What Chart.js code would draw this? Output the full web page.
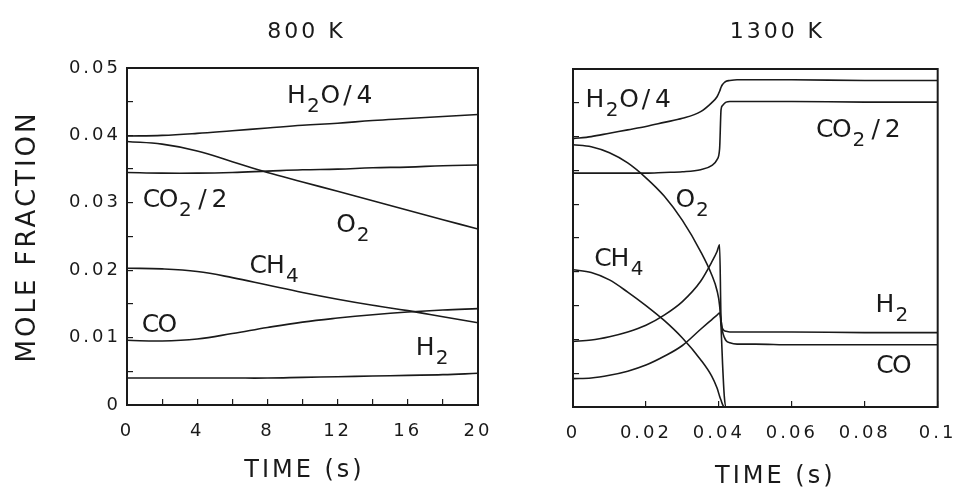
<!DOCTYPE html>
<html>
<head>
<meta charset="utf-8">
<title>Mole fraction vs time at 800 K and 1300 K</title>
<script src="https://cdn.jsdelivr.net/npm/chart.js@4.4.1/dist/chart.umd.min.js"></script>
<style>
  html, body { margin: 0; padding: 0; background: #fff; }
  #wrap { position: relative; width: 974px; height: 496px; }
  canvas { position: absolute; top: 0; }
  #cool { left: 0; }
  #hot { left: 520px; }
</style>
</head>
<body>
<div id="wrap">
  <canvas id="cool" width="520" height="496"></canvas>
  <canvas id="hot" width="454" height="496"></canvas>
</div>
<script>
// ==== 800 K panel (time in s) ====
const coolTime = [0, 2, 4, 6, 8, 10, 12, 14, 16, 18, 20];
const coolH2O4 = [0.0399, 0.0400, 0.0403, 0.0407, 0.0411, 0.0415, 0.0418, 0.0422, 0.0425, 0.0428, 0.0431];
const coolCO2h = [0.0345, 0.0344, 0.0344, 0.0345, 0.0347, 0.0349, 0.0350, 0.0352, 0.0353, 0.0355, 0.0356];
const coolO2   = [0.0391, 0.0387, 0.0377, 0.0361, 0.0345, 0.0331, 0.0317, 0.0303, 0.0289, 0.0275, 0.0261];
const coolCH4  = [0.0203, 0.0202, 0.0198, 0.0189, 0.0178, 0.0167, 0.0157, 0.0148, 0.0140, 0.0131, 0.0122];
const coolCO   = [0.0096, 0.0095, 0.0098, 0.0106, 0.0115, 0.0123, 0.0129, 0.0134, 0.0138, 0.0141, 0.0143];
const coolH2   = [0.0040, 0.0040, 0.0040, 0.0040, 0.0040, 0.0041, 0.0042, 0.0043, 0.0044, 0.0045, 0.0047];

// ==== 1300 K panel (time in s) ====
const hotTime = [0, 0.005, 0.01, 0.015, 0.02, 0.025, 0.03, 0.035, 0.038, 0.0395, 0.0402,
                 0.0406, 0.041, 0.0415, 0.042, 0.043, 0.045, 0.05, 0.06, 0.08, 0.1];
const hotH2O4 = [0.0397, 0.0400, 0.0405, 0.0410, 0.0415, 0.0421, 0.0427, 0.0437, 0.0450, 0.0459, 0.0467,
                 0.0473, 0.0477, 0.0480, 0.0482, 0.0483, 0.0484, 0.0484, 0.0484, 0.0483, 0.0483];
const hotCO2h = [0.0346, 0.0346, 0.0346, 0.0346, 0.0346, 0.0347, 0.0348, 0.0351, 0.0357, 0.0366, 0.0382,
                 0.0440, 0.0446, 0.0449, 0.0451, 0.0452, 0.0452, 0.0452, 0.0452, 0.0451, 0.0451];
const hotO2   = [0.0388, 0.0385, 0.0376, 0.0361, 0.0339, 0.0312, 0.0276, 0.0230, 0.0196, 0.0172, 0.0150,
                 0.0118, 0.0065, 0.0015, 0, 0, 0, 0, 0, 0, 0];
const hotCH4  = [0.0203, 0.0199, 0.0188, 0.0170, 0.0150, 0.0128, 0.0102, 0.0070, 0.0046, 0.0028, 0.0016,
                 0.0010, 0.0004, 0, 0, 0, 0, 0, 0, 0, 0];
const hotH2   = [0.0097, 0.0099, 0.0104, 0.0111, 0.0121, 0.0136, 0.0156, 0.0186, 0.0214, 0.0230, 0.0240,
                 0.0130, 0.0116, 0.0113, 0.0112, 0.0111, 0.0111, 0.0111, 0.0111, 0.0110, 0.0110];
const hotCO   = [0.0042, 0.0043, 0.0047, 0.0053, 0.0062, 0.0075, 0.0091, 0.0115, 0.0129, 0.0136, 0.0139,
                 0.0128, 0.0112, 0.0103, 0.0098, 0.0095, 0.0093, 0.0093, 0.0092, 0.0092, 0.0092];

// ==== Tick labels ====
const coolXTicks = ['0', '4', '8', '12', '16', '20'];
const hotXTicks = ['0', '0.02', '0.04', '0.06', '0.08', '0.1'];
const yTicks = ['0', '0.01', '0.02', '0.03', '0.04', '0.05'];

const INK = '#1a1a1a';
const FONT = 'DejaVu Sans';

function pair(time, values) {
  return time.map((t, i) => ({ x: t, y: values[i] }));
}

function labelFor(v, list) {
  const hit = list.find(s => Math.abs(parseFloat(s) - v) < 1e-9);
  return hit === undefined ? '' : hit;
}

// plotter-style lettering: wide spacing on everything the library draws
const spacing = {
  id: 'spacing',
  beforeDraw(chart) { chart.ctx.letterSpacing = '3px'; }
};

// closed frame round the plot area
const frame = {
  id: 'frame',
  afterDatasetsDraw(chart) {
    const { ctx, chartArea: a } = chart;
    ctx.save();
    ctx.strokeStyle = INK;
    ctx.lineWidth = 2;
    ctx.strokeRect(a.left, a.top, a.right - a.left, a.bottom - a.top);
    ctx.restore();
  }
};

// species names with subscripts, e.g. 'H_2O/4'
const speciesLabels = {
  id: 'speciesLabels',
  afterDatasetsDraw(chart, args, opts) {
    const { ctx, scales: { x, y } } = chart;
    ctx.save();
    ctx.fillStyle = INK;
    ctx.textAlign = 'center';
    ctx.textBaseline = 'alphabetic';
    ctx.letterSpacing = '0px';
    opts.items.forEach(item => {
      let px = x.getPixelForValue(item.x);
      const py = y.getPixelForValue(item.y);
      item.text.split(/(_\d)/).filter(Boolean).forEach(part => {
        const sub = part[0] === '_';
        const chars = sub ? part.slice(1) : part;
        ctx.font = (sub ? opts.subSize : opts.size) + 'px "' + FONT + '"';
        for (const c of chars) {
          ctx.fillText(c, px + opts.advance / 2, py + (sub ? opts.subDrop : 0));
          px += opts.advance;
        }
      });
    });
    ctx.restore();
  }
};

// panel heading and time caption, centred on the plot area plus a small shift
const captions = {
  id: 'captions',
  afterDraw(chart, args, opts) {
    const { ctx, chartArea: a } = chart;
    const mid = (a.left + a.right) / 2;
    ctx.save();
    ctx.fillStyle = INK;
    ctx.letterSpacing = '3px';
    ctx.textAlign = 'center';
    ctx.textBaseline = 'alphabetic';
    opts.items.forEach(c => {
      ctx.font = c.size + 'px "' + FONT + '"';
      ctx.fillText(c.text, mid + c.shift, c.baseline);
    });
    ctx.restore();
  }
};

function lineSet(data, smooth) {
  return Object.assign({
    data: data,
    borderColor: INK,
    borderWidth: 1.6,
    pointRadius: 0,
    fill: false
  }, smooth);
}

function makePanel(id, cfg) {
  return new Chart(document.getElementById(id), {
    type: 'line',
    data: { datasets: cfg.series.map(v => lineSet(pair(cfg.time, v), cfg.smooth)) },
    plugins: [spacing, frame, speciesLabels, captions],
    options: {
      responsive: false,
      animation: false,
      layout: { padding: { top: cfg.top, right: cfg.right, left: 0, bottom: 0 } },
      plugins: {
        legend: { display: false },
        tooltip: { enabled: false },
        speciesLabels: { items: cfg.labels, size: 25, subSize: 20, subDrop: 9, advance: 17 },
        captions: { items: cfg.captions }
      },
      scales: {
        x: {
          type: 'linear',
          min: 0,
          max: cfg.xMax,
          afterFit(s) { s.height = cfg.xAxisHeight; },
          border: { display: false },
          grid: { drawOnChartArea: false, tickLength: -6, color: INK, lineWidth: 1.2 },
          ticks: {
            stepSize: cfg.xStep,
            autoSkip: false,
            maxRotation: 0,
            padding: 22,
            color: INK,
            font: { family: FONT, size: 18 },
            callback: v => labelFor(v, cfg.xTicks)
          }
        },
        y: {
          type: 'linear',
          min: 0,
          max: 0.05,
          afterFit(s) { s.width = cfg.yAxisWidth; },
          border: { display: false },
          grid: { drawOnChartArea: false, tickLength: -6, color: INK, lineWidth: 1.2 },
          ticks: {
            stepSize: 0.005,
            autoSkip: false,
            padding: 12,
            color: INK,
            font: { family: FONT, size: 18 },
            callback: v => cfg.yLabels ? labelFor(v, yTicks) : ''
          },
          title: {
            display: cfg.yLabels,
            text: 'MOLE FRACTION',
            color: INK,
            font: { family: FONT, size: 26 },
            padding: { top: 13, bottom: 0 }
          }
        }
      }
    }
  });
}

makePanel('cool', {
  time: coolTime,
  series: [coolH2O4, coolCO2h, coolO2, coolCH4, coolCO, coolH2],
  smooth: { tension: 0.4 },
  xMax: 20, xStep: 2, xTicks: coolXTicks, yLabels: true,
  top: 68, right: 42, yAxisWidth: 127, xAxisHeight: 91,
  captions: [
    { text: '800 K', size: 22, shift: 4, baseline: 38 },
    { text: 'TIME (s)', size: 24, shift: 2, baseline: 477 }
  ],
  labels: [
    { text: 'H_2O/4', x: 9.17, y: 0.0448 },
    { text: 'CO_2/2', x: 0.91, y: 0.0294 },
    { text: 'O_2', x: 12.0, y: 0.0257 },
    { text: 'CH_4', x: 7.0, y: 0.0196 },
    { text: 'CO', x: 0.85, y: 0.0109 },
    { text: 'H_2', x: 16.5, y: 0.0074 }
  ]
});

makePanel('hot', {
  time: hotTime,
  series: [hotH2O4, hotCO2h, hotO2, hotCH4, hotH2, hotCO],
  smooth: { cubicInterpolationMode: 'monotone' },
  xMax: 0.1, xStep: 0.02, xTicks: hotXTicks, yLabels: false,
  top: 69, right: 26, yAxisWidth: 53, xAxisHeight: 89,
  captions: [
    { text: '1300 K', size: 22, shift: 22, baseline: 38 },
    { text: 'TIME (s)', size: 24, shift: 20, baseline: 483 }
  ],
  labels: [
    { text: 'H_2O/4', x: 0.0037, y: 0.0444 },
    { text: 'CO_2/2', x: 0.0667, y: 0.0400 },
    { text: 'O_2', x: 0.0285, y: 0.0296 },
    { text: 'CH_4', x: 0.0059, y: 0.0208 },
    { text: 'H_2', x: 0.0832, y: 0.0141 },
    { text: 'CO', x: 0.0832, y: 0.0050 }
  ]
});
</script>
</body>
</html>
